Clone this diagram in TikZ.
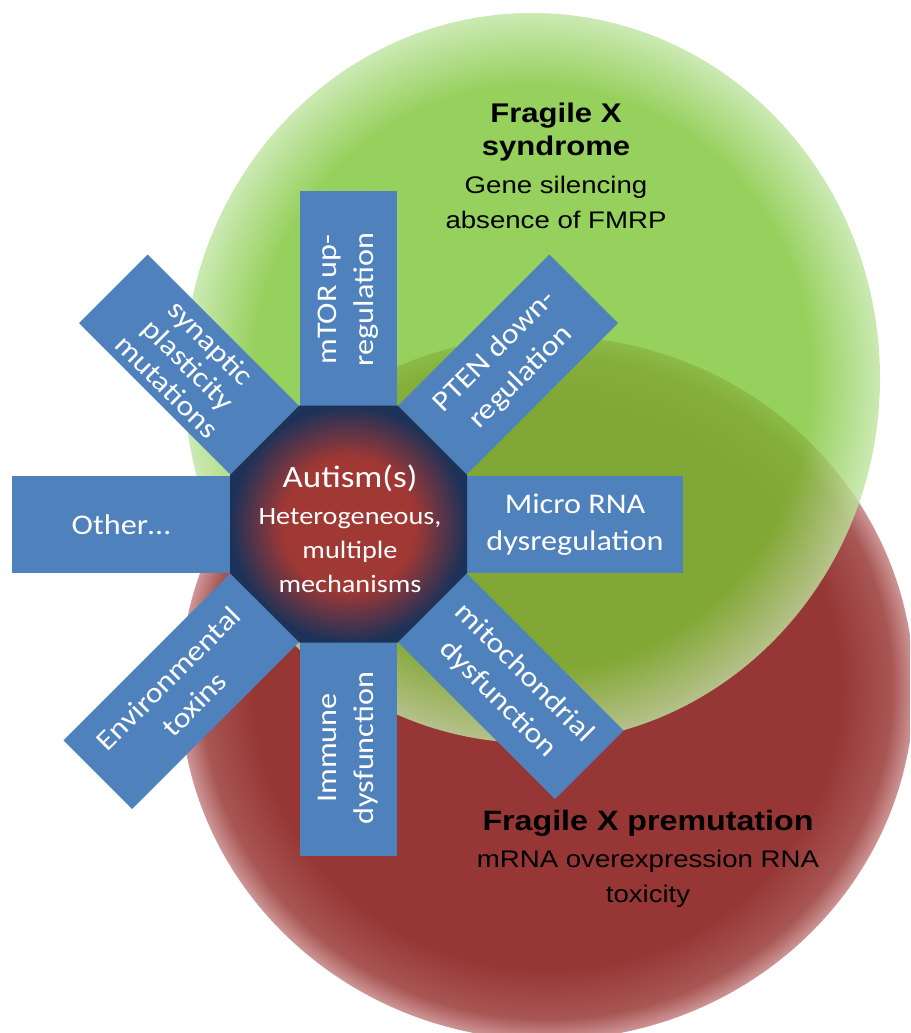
\documentclass[tikz,border=0pt]{standalone}
\usepackage{fontspec}
\newfontfamily\boxfont[FakeStretch=1.13]{Carlito}
\newfontfamily\labelfont[FakeStretch=1.15]{Liberation Sans}

\definecolor{fxgreen}{RGB}{124,196,52}
\definecolor{fxgreenlt}{RGB}{190,228,160}
\definecolor{fxred}{RGB}{150,55,53}
\definecolor{fxredmid}{RGB}{168,86,84}
\definecolor{fxredlt}{RGB}{205,150,150}
\definecolor{armblue}{RGB}{79,129,189}
\definecolor{octred}{RGB}{160,56,52}
\definecolor{octnavy}{RGB}{28,50,88}

\pgfdeclareradialshading{greenglow}{\pgfpoint{0bp}{0bp}}{color(0bp)=(fxgreen); color(20bp)=(fxgreen); color(25bp)=(fxgreenlt); color(50bp)=(fxgreenlt)}
\pgfdeclareradialshading{redglow}{\pgfpoint{0bp}{0bp}}{color(0bp)=(fxred); color(20bp)=(fxred); color(23.5bp)=(fxredmid); color(25bp)=(fxredlt); color(50bp)=(fxredlt)}
\pgfdeclareradialshading{hubglow}{\pgfpoint{0bp}{0bp}}{color(0bp)=(octred); color(14bp)=(octred); color(25bp)=(octnavy); color(50bp)=(octnavy)}

\begin{document}
\begin{tikzpicture}[x=1pt,y=-1pt,
  arm/.style={fill=armblue, text=white, align=center, inner sep=0pt,
    minimum height=97pt, font=\boxfont\fontsize{28.5}{37}\selectfont},
  fxtitle/.style={align=center, inner sep=0pt, anchor=north,
    font=\labelfont\bfseries\fontsize{27}{33}\selectfont},
  fxnote/.style={align=center, inner sep=0pt, anchor=north,
    font=\labelfont\fontsize{24}{35}\selectfont}]

\useasboundingbox (0,0) rectangle (910,1033);
\clip (0,0) rectangle (910,1033);

% the two circles:
\shade[shading=redglow] (547,688) ellipse [x radius=367, y radius=352];
\shade[shading=greenglow, opacity=0.8] (532,378) ellipse [x radius=348, y radius=365];

% arms round the hub:
\node[arm, minimum width=217pt, rotate=90] (mtor) at (348.5,299.5) {mTOR up-\\regulation};
\node[arm, minimum width=214pt, rotate=45] (pten) at (508,364.5) {PTEN down-\\regulation};
\node[arm, minimum width=216pt] (mirna) at (575,524.5) {Micro RNA\\dysregulation};
\node[arm, minimum width=222pt, rotate=-45] (mito) at (510.8,686.3) {mitochondrial\\dysfunction};
\node[arm, minimum width=216pt, rotate=90] (immune) at (348.5,748) {Immune\\dysfunction};
\node[arm, minimum width=236pt, rotate=45] (envtox) at (181.3,691.2) {Environmental\\toxins};
\node[arm, minimum width=218pt] (other) at (121,524.5) {Other…};
\node[arm, minimum width=214pt, rotate=-45, font=\boxfont\fontsize{28.5}{31}\selectfont] (synaptic) at (189,364.5) {synaptic\\plasticity\\mutations};

% the hub:
\shade[shading=hubglow] (299.4,405.5) -- (397.6,405.5) -- (467,474.9) -- (467,573.1)
  -- (397.6,642.5) -- (299.4,642.5) -- (230,573.1) -- (230,474.9) -- cycle;
\node[align=center, inner sep=0pt, anchor=north, text=white,
  font=\boxfont\fontsize{25}{34}\selectfont] (autism) at (350,465)
  {{\fontsize{31}{34}\selectfont Autism(s)}\\[3pt]Heterogeneous,\\multiple\\mechanisms};

% labels in the circles:
\node[fxtitle] (fxs) at (556,103) {Fragile X\\syndrome};
\node[fxnote] (fxsnote) at (556,176) {Gene silencing\\absence of FMRP};
\node[fxtitle, font=\labelfont\bfseries\fontsize{28}{33}\selectfont] (fxp) at (648,810) {Fragile X premutation};
\node[fxnote] (fxpnote) at (648,850) {mRNA overexpression RNA\\toxicity};

\end{tikzpicture}
\end{document}
